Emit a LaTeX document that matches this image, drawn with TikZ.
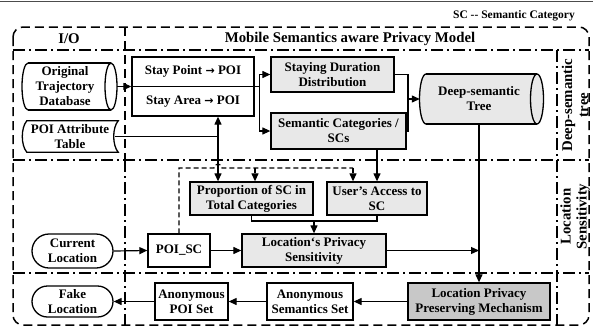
\documentclass[tikz,border=0pt]{standalone}
\usepackage{fontspec}
\setmainfont{Liberation Serif}
\newfontfamily\arrowfont{DejaVu Sans}
\usetikzlibrary{arrows.meta,shapes.misc,calc}
\definecolor{boxgray}{RGB}{232,232,232}
\definecolor{darkgray}{RGB}{200,200,200}
\newcommand{\toarrow}{{\arrowfont\bfseries\fontsize{11}{15}\selectfont →}}
\begin{document}
\begin{tikzpicture}[x=1pt,y=-1pt,
  txt/.style={font=\fontsize{13}{15}\selectfont\bfseries, align=center},
  box/.style={txt, draw, line width=1.3pt, rectangle, inner sep=0pt},
  gbox/.style={box, fill=boxgray},
  dbox/.style={box, fill=darkgray},
  pill/.style={txt, draw, line width=1.3pt, rounded rectangle, inner sep=0pt},
  area/.style={txt, rectangle, inner sep=0pt},
  outline/.style={line width=1.3pt},
  conn/.style={line width=1.2pt},
  arr/.style={conn, -{Triangle[length=8pt,width=7pt]}},
  dconn/.style={line width=1.2pt, dash pattern=on 5pt off 3pt},
  darr/.style={dconn, -{Triangle[length=8pt,width=7pt]}},
  frame/.style={line width=1.5pt, dash pattern=on 9pt off 5pt},
  sep/.style={line width=1.5pt, dash pattern=on 12pt off 4pt on 2pt off 4pt},
  head/.style={font=\fontsize{14.8}{16}\selectfont\bfseries},
  side/.style={font=\fontsize{14.8}{16}\selectfont\bfseries, align=center, rotate=90}]
\useasboundingbox (0,0) rectangle (593,332);
% rule along the top edge
\draw[line width=0.8pt, black!70] (0,1) -- (593,1);

% frame and panel separators
\draw[frame, rounded corners=10pt] (13,27) rectangle (589,325);
\draw[frame] (125,27) -- (125,160);
\draw[sep] (125,160) -- (125,325);
\draw[sep] (13,50) -- (589,50);
\draw[sep] (13,160) -- (589,160);
\draw[sep] (13,273) -- (589,273);
\draw[sep] (557,50) -- (557,325);

% headings
\node[font=\fontsize{11.5}{13}\selectfont\bfseries] (legend) at (514,16) {SC -{}- Semantic Category};
\node[head] (io) at (69,39) {I/O};
\node[head] (model) at (350,39) {Mobile Semantics aware Privacy Model};
\node[side] (dtlabel) at (575,105) {Deep-semantic\\tree};
\node[side] (lslabel) at (575,216.5) {Location\\Sensitivity};

% trajectory database (horizontal cylinder)
\node[area, minimum width=95pt, minimum height=47pt] (otd) at (69.5,86.5) {};
\draw[outline] (28,63) -- (111,63);
\draw[outline] (28,110) -- (111,110);
\draw[outline] (111,86.5) ellipse[x radius=6pt, y radius=23.5pt];
\draw[outline] (28,63) arc[start angle=90, end angle=270, x radius=6pt, y radius=23.5pt];
\node[txt] (otdtext) at (65,86.5) {Original\\Trajectory\\Database};

% POI attribute table
\node[txt, minimum width=96pt, minimum height=31pt, inner sep=0pt] (poi) at (70,136.5) {POI Attribute\\Table};
\draw[outline] ([xshift=5pt]poi.north west) -- (poi.north east)
  .. controls +(-6,7) and +(-6,-7) .. (poi.south east)
  -- ([xshift=5pt]poi.south west)
  .. controls +(-6,-7) and +(-6,7) .. ([xshift=5pt]poi.north west) -- cycle;

% stay point / stay area
\node[box, minimum width=122pt, minimum height=59pt] (stay) at (193,86.5) {};
\draw[outline] (stay.west) -- (stay.east);
\node[txt] (sp) at (193,71.5) {Stay Point \toarrow\ POI};
\node[txt] (sa) at (193,101.5) {Stay Area \toarrow\ POI};

\node[gbox, minimum width=123pt, minimum height=35pt] (sdd) at (332.5,74.5) {Staying Duration\\Distribution};
\node[gbox, minimum width=135pt, minimum height=36pt] (scs) at (338.5,131) {Semantic Categories /\\SCs};

% deep-semantic tree (horizontal cylinder)
\node[area, minimum width=123pt, minimum height=50pt] (dst) at (481.5,99) {};
\fill[boxgray] (426,74) -- (537,74) arc[start angle=90, end angle=-90, x radius=6.5pt, y radius=25pt]
  -- (426,124) arc[start angle=270, end angle=90, x radius=6.5pt, y radius=25pt] -- cycle;
\draw[outline] (426,74) -- (537,74);
\draw[outline] (426,124) -- (537,124);
\draw[outline] (537,99) ellipse[x radius=6.5pt, y radius=25pt];
\draw[outline] (426,74) arc[start angle=90, end angle=270, x radius=6.5pt, y radius=25pt];
\node[txt] (dsttext) at (479,99) {Deep-semantic\\Tree};

% location sensitivity
\node[gbox, minimum width=123pt, minimum height=33pt] (prop) at (251.5,198.5) {Proportion of SC in\\Total Categories};
\node[gbox, minimum width=100pt, minimum height=33pt] (uas) at (377,198.5) {User’s Access to\\SC};
\node[gbox, minimum width=144pt, minimum height=33pt] (lps) at (314,250.5) {Location‘s Privacy\\Sensitivity};
\node[box, minimum width=62pt, minimum height=33pt] (poisc) at (179,250.5) {POI\_SC};
\node[pill, minimum width=81pt, minimum height=34pt] (cur) at (72.5,251) {Current\\Location};

% output chain
\node[dbox, minimum width=142pt, minimum height=37pt] (lppm) at (479,301.5) {Location Privacy\\Preserving Mechanism};
\node[box, minimum width=86pt, minimum height=37pt] (ass) at (310,301.5) {Anonymous\\Semantics Set};
\node[box, minimum width=73pt, minimum height=37pt] (aps) at (191.5,301.5) {Anonymous\\POI Set};
\node[pill, minimum width=81pt, minimum height=31pt] (fake) at (72.5,301.5) {Fake\\Location};

% junction points
\coordinate (j1) at (218,136.5);
\coordinate (j2) at (408,99);
\coordinate (j3) at (314,221);
\coordinate (dtop) at (0,168);

% connectors
\draw[arr] (otd.east) -- (stay.west);
\draw[arr] (stay.east) -- ++(5,0) |- (sdd.west);
\draw[arr] (stay.east) -- ++(5,0) |- (scs.west);
\draw[conn] ([xshift=-3pt]poi.east) -- (j1);
\draw[arr] (j1) -- (j1 |- stay.south);
\draw[arr] (j1) -- (j1 |- prop.north);
\draw[conn] (sdd.east) -| (j2);
\draw[conn] (scs.east) -| (j2);
\draw[arr] (j2) -- (dst.west);
\draw[arr] (uas.north |- scs.south) -- (uas.north);

% dashed feed from POI_SC
\draw[dconn] (poisc.north) -- (poisc.north |- dtop) -- (214,168) arc[start angle=180, end angle=0, radius=4pt] -- ([xshift=-24pt]uas.north |- dtop);
\draw[darr] ([xshift=-24pt]uas.north |- dtop) -- ([xshift=-24pt]uas.north);
\draw[darr] ([xshift=3.5pt]prop.north |- dtop) -- ([xshift=3.5pt]prop.north);

\draw[conn] (prop.south) -- (prop.south |- j3) -- (uas.south |- j3) -- (uas.south);
\draw[arr] (j3) -- (lps.north);
\draw[arr] (cur.east) -- (poisc.west);
\draw[arr] (poisc.east) -- (lps.west);
\draw[arr] (lps.east) -- (lps.east -| lppm.north);
\draw[arr] (lppm.north |- dst.south) -- (lppm.north);
\draw[arr] (lppm.west) -- (ass.east);
\draw[arr] (ass.west) -- (aps.east);
\draw[arr] (aps.west) -- (fake.east);
\end{tikzpicture}
\end{document}
